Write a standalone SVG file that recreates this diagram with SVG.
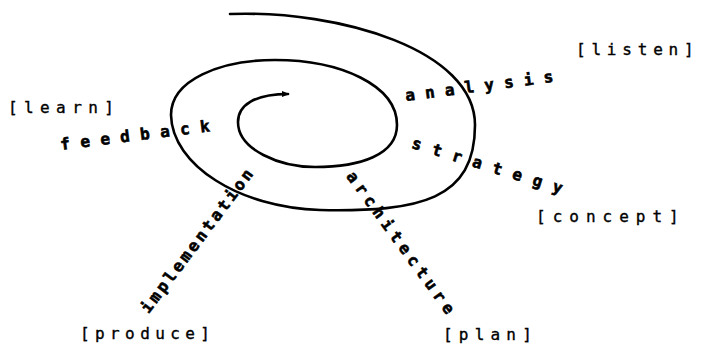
<svg xmlns="http://www.w3.org/2000/svg" width="704" height="350" viewBox="0 0 704 350">
<style>
.lbl{font-family:"DejaVu Sans Mono","Liberation Mono",monospace;font-size:16px;fill:#000;stroke:#000;stroke-width:0.35}
.stage{font-family:"DejaVu Sans Mono","Liberation Mono",monospace;font-size:16px;font-weight:bold;fill:#000;stroke:#000;stroke-width:0.6}
.sp{fill:none;stroke:#000;stroke-width:2.6;stroke-linecap:round}
</style>
<defs>
<marker id="ah" viewBox="0 0 10 10" refX="8" refY="5" markerWidth="3" markerHeight="3" orient="auto" markerUnits="strokeWidth">
<path d="M0,1 L10,5 L0,9 z" fill="#000"/>
</marker>
</defs>
<rect width="704" height="350" fill="#fff"/>
<g id="connectors">
<path class="sp" marker-end="url(#ah)" d="M230,14 C340,10 475,50 475,125 C475,200 420,212 320,210 C240,208 172,165 171,115 C171,80 220,60 275,60 C340,60 397,85 397,125 C397,155 360,167 315,167 C280,167 238,150 238,122 C238,105 255,94 288,94"/>
</g>
<g id="learn"><text class="lbl" x="8" y="113" letter-spacing="6.4">[learn]</text></g>
<g id="listen"><text class="lbl" x="576" y="55" letter-spacing="5.8">[listen]</text></g>
<g id="concept"><text class="lbl" x="536" y="222" letter-spacing="7">[concept]</text></g>
<g id="produce"><text class="lbl" x="80" y="339" letter-spacing="5.4">[produce]</text></g>
<g id="plan"><text class="lbl" x="443" y="340" letter-spacing="6.2">[plan]</text></g>
<g id="feedback"><text class="stage" transform="translate(65,144) rotate(-7.2)" x="-4.8" y="5.5" letter-spacing="10.5">feedback</text></g>
<g id="analysis"><text class="stage" transform="translate(410,95) rotate(-7.4)" x="-4.8" y="5.5" letter-spacing="10.3">analysis</text></g>
<g id="strategy"><text class="stage" transform="translate(417,144) rotate(17)" x="-4.8" y="5.5" letter-spacing="11.4">strategy</text></g>
<g id="implementation"><text class="stage" transform="translate(147,307) rotate(-53)" x="-4.8" y="5.5" letter-spacing="3.1">implementation</text></g>
<g id="architecture"><text class="stage" transform="translate(353,177) rotate(54)" x="-4.8" y="5.5" letter-spacing="5.1">architecture</text></g>
</svg>
